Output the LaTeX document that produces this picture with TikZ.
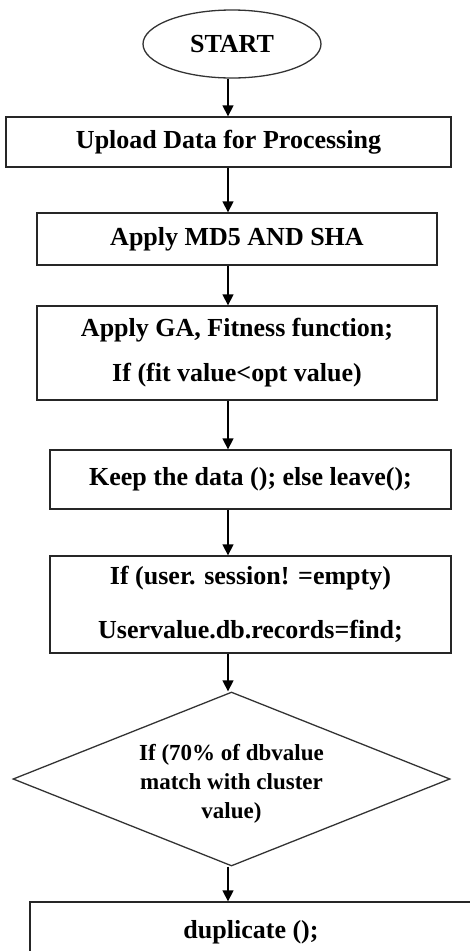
\documentclass[tikz,border=0pt]{standalone}
\usepackage{fontspec}
\setmainfont{Liberation Serif}
\usetikzlibrary{shapes.geometric,arrows.meta}
\begin{document}
\begin{tikzpicture}[x=1pt,y=-1pt,
  line width=1.3pt,
  txt/.style={font=\bfseries\fontsize{26}{30}\selectfont},
  box/.style={draw=black!85,txt,rectangle,inner sep=0pt,align=center},
  arr/.style={draw=black,line width=1.3pt,-{Triangle[width=11pt,length=11pt]}}]
\clip (0,0) rectangle (470,951);
\coordinate (spine) at (228,0);
\node[draw=black!80,ellipse,txt,minimum width=178pt,minimum height=68pt,inner sep=0pt] (start) at (232,44) {START};
\node[box,minimum width=445pt,minimum height=50pt] (b1) at (228.5,142) {Upload Data for Processing};
\node[box,minimum width=400pt,minimum height=52pt] (b2) at (237,239) {Apply MD5 AND SHA};
\node[box,minimum width=400pt,minimum height=94pt] (b3) at (237,353) {Apply GA, Fitness function;\\[15pt] If (fit value<opt value)};
\node[box,minimum width=401pt,minimum height=59pt] (b4) at (250.5,479.5) {Keep the data (); else leave();};
\node[box,minimum width=401pt,minimum height=97pt] (b5) at (250.5,604.5) {If (user. session! =empty)\\[24pt] Uservalue.db.records=find;};
\node[draw=black!80,diamond,aspect=2.5,inner sep=0pt,minimum width=437pt,minimum height=174pt] (d) at (231.5,779) {};
\node[align=center,inner sep=0pt,font=\bfseries\fontsize{23}{29}\selectfont] (dt) at (231.5,784) {If (70\% of dbvalue\\ match with cluster\\ value)};
\node[box,minimum width=442pt,minimum height=60pt] (b6) at (251,932) {duplicate ();};
\draw[arr] (start.south -| spine) -- (b1.north -| spine);
\draw[arr] (b1.south -| spine) -- (b2.north -| spine);
\draw[arr] (b2.south -| spine) -- (b3.north -| spine);
\draw[arr] (b3.south -| spine) -- (b4.north -| spine);
\draw[arr] (b4.south -| spine) -- (b5.north -| spine);
\draw[arr] (b5.south -| spine) -- (d.north -| spine);
\draw[arr] (d.south -| spine) -- (b6.north -| spine);
\end{tikzpicture}
\end{document}
